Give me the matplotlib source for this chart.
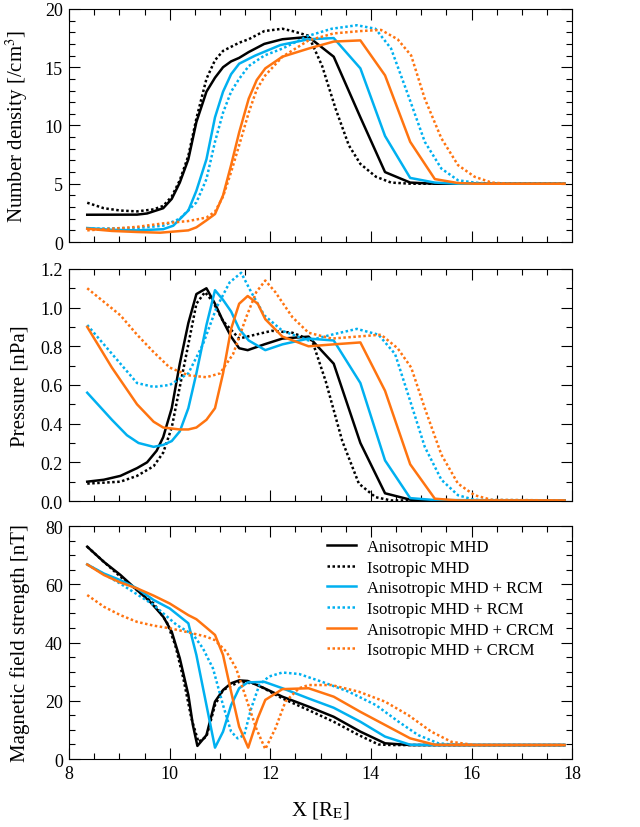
import matplotlib.pyplot as plt
from matplotlib.ticker import MultipleLocator, FormatStrFormatter

plt.rcParams['font.family'] = ['Liberation Serif', 'DejaVu Serif']
plt.rcParams['mathtext.fontset'] = 'stix'

# colours / labels
c_black = 'black'
c_cyan = '#00b0f0'
c_orange = '#ff7410'
labels = ['Anisotropic MHD', 'Isotropic MHD', 'Anisotropic MHD + RCM',
          'Isotropic MHD + RCM', 'Anisotropic MHD + CRCM', 'Isotropic MHD + CRCM']

# ---- number density [/cm^3] ----
n_aniso_x = [8.36, 9.35, 9.55, 9.87, 10.04, 10.2, 10.37, 10.53, 10.73, 10.9, 11.06, 11.22, 11.38, 11.57,
             11.88, 12.24, 12.76, 13.26, 13.79, 14.28, 14.78, 15.27, 17.85]
n_aniso_y = [2.34, 2.35, 2.45, 2.9, 3.7, 5.1, 7.1, 10.3, 12.9, 14.1, 15.0, 15.5, 15.8, 16.3,
             17.0, 17.4, 17.6, 15.9, 10.7, 6.0, 5.1, 5.0, 5.0]
n_iso_x = [8.36, 8.69, 9.02, 9.35, 9.68, 9.87, 10.04, 10.2, 10.37, 10.53, 10.73, 10.9, 11.06, 11.38, 11.57,
           11.88, 12.24, 12.44, 12.76, 13.03, 13.3, 13.56, 13.79, 14.1, 14.4, 14.8, 17.85]
n_iso_y = [3.37, 2.9, 2.7, 2.63, 2.8, 3.1, 3.9, 5.3, 7.4, 10.6, 14.0, 15.6, 16.4, 17.1, 17.4,
           18.1, 18.3, 18.1, 17.7, 15.1, 11.4, 8.3, 6.7, 5.6, 5.1, 5.0, 5.0]
n_aniso_rcm_x = [8.36, 8.85, 9.35, 9.87, 10.07, 10.37, 10.53, 10.73, 10.9, 11.06, 11.22, 11.38, 11.7,
                 12.2, 12.76, 13.26, 13.79, 14.28, 14.78, 15.27, 15.73, 17.85]
n_aniso_rcm_y = [1.2, 1.05, 1.0, 1.1, 1.4, 2.7, 4.4, 7.1, 10.7, 12.9, 14.4, 15.3, 16.0,
                 16.9, 17.4, 17.5, 14.9, 9.1, 5.5, 5.1, 5.0, 5.0]
n_iso_rcm_x = [8.36, 9.35, 9.87, 10.2, 10.53, 10.73, 10.9, 11.06, 11.22, 11.38, 11.57, 11.88, 12.24,
               12.76, 13.22, 13.72, 14.09, 14.4, 14.74, 15.07, 15.4, 15.73, 16.06, 16.4, 17.85]
n_iso_rcm_y = [1.14, 1.2, 1.4, 2.0, 3.4, 5.4, 8.6, 11.1, 12.9, 14.0, 15.1, 16.0, 16.6,
               17.7, 18.3, 18.6, 18.3, 16.6, 12.6, 8.6, 6.3, 5.3, 5.1, 5.0, 5.0]
n_aniso_crcm_x = [8.36, 8.85, 9.35, 9.81, 10.37, 10.53, 10.73, 10.9, 11.06, 11.22, 11.38, 11.57, 11.73,
                  11.9, 12.24, 12.76, 13.26, 13.79, 14.28, 14.78, 15.27, 15.73, 16.06, 17.85]
n_aniso_crcm_y = [1.14, 0.95, 0.86, 0.8, 1.0, 1.26, 1.86, 2.4, 4.0, 6.6, 9.4, 12.3, 13.9,
                  14.9, 15.9, 16.6, 17.2, 17.3, 14.3, 8.6, 5.4, 5.06, 5.0, 5.0]
n_iso_crcm_x = [8.36, 9.35, 9.87, 10.37, 10.73, 10.9, 11.06, 11.22, 11.38, 11.57, 11.73, 11.9, 12.24,
                12.76, 13.26, 13.79, 14.2, 14.53, 14.8, 15.07, 15.4, 15.73, 16.06, 16.4, 16.73, 17.85]
n_iso_crcm_y = [1.0, 1.3, 1.6, 1.8, 2.1, 2.6, 3.9, 6.0, 8.3, 11.1, 13.1, 14.3, 15.9,
                17.3, 17.9, 18.1, 18.2, 17.4, 16.0, 12.3, 8.9, 6.6, 5.6, 5.1, 5.0, 5.0]

# ---- pressure [nPa] ----
p_aniso_x = [8.36, 8.69, 9.02, 9.35, 9.55, 9.74, 9.87, 10.04, 10.2, 10.37, 10.53, 10.73, 10.9, 11.06,
             11.22, 11.38, 11.55, 11.88, 12.24, 12.76, 13.26, 13.79, 14.28, 14.78, 15.27, 17.85]
p_aniso_y = [0.10, 0.11, 0.13, 0.17, 0.20, 0.26, 0.33, 0.48, 0.71, 0.92, 1.07, 1.10, 1.02, 0.93,
             0.85, 0.79, 0.78, 0.81, 0.84, 0.85, 0.71, 0.30, 0.04, 0.007, 0.003, 0.003]
p_iso_x = [8.36, 9.02, 9.35, 9.68, 9.87, 10.04, 10.2, 10.37, 10.53, 10.7, 10.86, 11.06, 11.38, 11.7,
           12.03, 12.44, 12.83, 13.1, 13.43, 13.76, 14.09, 14.4, 17.85]
p_iso_y = [0.09, 0.10, 0.13, 0.18, 0.25, 0.38, 0.59, 0.81, 1.02, 1.08, 1.03, 0.93, 0.84, 0.86,
           0.88, 0.87, 0.83, 0.62, 0.31, 0.09, 0.02, 0.003, 0.003]
p_aniso_rcm_x = [8.36, 8.85, 9.15, 9.38, 9.68, 9.87, 10.04, 10.2, 10.37, 10.53, 10.73, 10.9, 11.06,
                 11.22, 11.38, 11.57, 11.9, 12.24, 12.76, 13.26, 13.79, 14.28, 14.78, 15.27, 17.85]
p_aniso_rcm_y = [0.56, 0.42, 0.34, 0.30, 0.28, 0.29, 0.31, 0.36, 0.48, 0.66, 0.91, 1.09, 1.04,
                 0.98, 0.89, 0.83, 0.78, 0.81, 0.84, 0.83, 0.61, 0.21, 0.015, 0.005, 0.003]
p_iso_rcm_x = [8.36, 8.69, 9.02, 9.35, 9.68, 10.0, 10.37, 10.66, 10.93, 11.19, 11.42, 11.62, 11.88,
               12.24, 12.76, 13.22, 13.72, 14.15, 14.48, 14.74, 15.07, 15.4, 15.73, 16.06, 17.85]
p_iso_rcm_y = [0.91, 0.81, 0.71, 0.61, 0.59, 0.60, 0.66, 0.81, 1.00, 1.13, 1.18, 1.08, 0.96,
               0.88, 0.83, 0.86, 0.89, 0.86, 0.76, 0.55, 0.28, 0.11, 0.03, 0.006, 0.003]
p_aniso_crcm_x = [8.36, 8.85, 9.35, 9.68, 9.87, 10.2, 10.37, 10.53, 10.73, 10.9, 11.06, 11.22, 11.38,
                  11.55, 11.75, 11.9, 12.24, 12.76, 13.26, 13.79, 14.28, 14.78, 15.27, 15.73, 17.85]
p_aniso_crcm_y = [0.90, 0.69, 0.50, 0.41, 0.38, 0.37, 0.37, 0.38, 0.42, 0.48, 0.66, 0.89, 1.02,
                  1.06, 1.02, 0.94, 0.85, 0.80, 0.81, 0.82, 0.57, 0.19, 0.012, 0.003, 0.003]
p_iso_crcm_x = [8.36, 8.69, 9.02, 9.35, 9.68, 10.0, 10.37, 10.73, 11.0, 11.26, 11.52, 11.72, 11.9,
                12.1, 12.44, 12.76, 13.22, 13.72, 14.2, 14.53, 14.8, 15.07, 15.4, 15.73, 16.06, 16.4, 17.85]
p_iso_crcm_y = [1.10, 1.03, 0.96, 0.86, 0.77, 0.69, 0.65, 0.64, 0.66, 0.76, 0.95, 1.08, 1.14,
                1.08, 0.95, 0.87, 0.84, 0.85, 0.86, 0.79, 0.69, 0.48, 0.24, 0.09, 0.03, 0.006, 0.003]

# ---- magnetic field strength [nT] ----
b_aniso_x = [8.36, 8.69, 9.02, 9.35, 9.61, 9.87, 10.04, 10.2, 10.37, 10.46, 10.55, 10.73, 10.9, 11.06,
             11.22, 11.38, 11.55, 11.88, 12.24, 12.76, 13.26, 13.79, 14.28, 14.78, 17.85]
b_aniso_y = [72.9, 67.7, 63.2, 58.0, 54.0, 48.9, 43.7, 34.6, 22.0, 11.7, 4.5, 8.2, 19.7, 23.7,
             26.0, 27.0, 26.8, 24.3, 21.4, 18.0, 14.5, 9.4, 5.4, 4.8, 4.8]
b_iso_x = [8.36, 8.69, 9.02, 9.35, 9.68, 9.94, 10.11, 10.27, 10.43, 10.57, 10.73, 10.9, 11.06, 11.38,
           11.7, 12.24, 12.76, 13.26, 13.76, 14.15, 14.4, 17.85]
b_iso_y = [72.9, 67.7, 62.6, 58.0, 53.4, 47.1, 39.1, 27.7, 14.0, 5.9, 7.7, 18.5, 23.7, 26.5,
           25.9, 20.8, 16.8, 12.8, 8.2, 5.0, 4.8, 4.8]
b_aniso_rcm_x = [8.36, 8.69, 9.02, 9.35, 9.68, 10.0, 10.37, 10.53, 10.73, 10.9, 11.06, 11.22, 11.38,
                 11.55, 11.88, 12.24, 12.76, 13.26, 13.79, 14.28, 14.78, 15.27, 17.85]
b_aniso_rcm_y = [66.8, 63.7, 61.4, 58.6, 54.6, 51.7, 46.6, 35.7, 18.5, 3.9, 9.4, 18.5, 24.3,
                 26.3, 26.5, 24.3, 20.8, 17.6, 12.8, 7.7, 4.9, 4.8, 4.8]
b_iso_rcm_x = [8.36, 9.02, 9.68, 10.14, 10.47, 10.66, 10.86, 11.06, 11.22, 11.35, 11.48, 11.62, 11.78,
               11.97, 12.24, 12.57, 13.03, 13.56, 14.1, 14.55, 14.94, 15.34, 15.73, 17.85]
b_iso_rcm_y = [66.8, 60.2, 52.9, 46.0, 42.6, 38.0, 31.1, 18.5, 9.4, 7.1, 8.2, 17.4, 25.4,
               28.3, 29.7, 29.2, 26.5, 23.1, 18.5, 12.8, 8.2, 5.4, 4.8, 4.8]
b_aniso_crcm_x = [8.36, 8.69, 9.02, 9.35, 9.68, 10.0, 10.37, 10.53, 10.73, 10.9, 11.06, 11.22, 11.38,
                  11.56, 11.75, 11.9, 12.24, 12.76, 13.26, 13.79, 14.28, 14.78, 15.27, 15.73, 17.85]
b_aniso_crcm_y = [66.8, 63.2, 60.6, 58.6, 56.1, 53.4, 49.4, 48.0, 45.1, 42.6, 35.7, 23.1, 11.1,
                  3.9, 14.0, 20.3, 24.0, 24.3, 21.4, 16.2, 11.7, 7.1, 4.9, 4.8, 4.8]
b_iso_crcm_x = [8.36, 8.69, 9.02, 9.35, 9.68, 10.0, 10.37, 10.73, 10.9, 11.13, 11.32, 11.52, 11.72,
                11.9, 12.1, 12.3, 12.57, 12.76, 13.22, 13.76, 14.28, 14.74, 15.2, 15.6, 16.06, 17.85]
b_iso_crcm_y = [56.3, 52.3, 49.4, 47.1, 45.8, 44.9, 43.5, 42.0, 40.8, 36.8, 31.1, 20.8, 10.5,
                3.4, 10.5, 19.7, 24.3, 25.4, 25.4, 23.1, 19.7, 15.1, 9.4, 5.9, 4.8, 4.8]

dotted = (0, (1, 1))
styles = [(c_black, '-'), (c_black, dotted), (c_cyan, '-'), (c_cyan, dotted),
          (c_orange, '-'), (c_orange, dotted)]

panels = [
    ([(n_aniso_x, n_aniso_y), (n_iso_x, n_iso_y), (n_aniso_rcm_x, n_aniso_rcm_y),
      (n_iso_rcm_x, n_iso_rcm_y), (n_aniso_crcm_x, n_aniso_crcm_y), (n_iso_crcm_x, n_iso_crcm_y)],
     r'Number density [/cm$^3$]', (0, 20), 5, 1, '%d', [0.108, 0.7065, 0.786, 0.2815]),
    ([(p_aniso_x, p_aniso_y), (p_iso_x, p_iso_y), (p_aniso_rcm_x, p_aniso_rcm_y),
      (p_iso_rcm_x, p_iso_rcm_y), (p_aniso_crcm_x, p_aniso_crcm_y), (p_iso_crcm_x, p_iso_crcm_y)],
     'Pressure [nPa]', (0, 1.2), 0.2, 0.1, '%.1f', [0.108, 0.3937, 0.786, 0.2803]),
    ([(b_aniso_x, b_aniso_y), (b_iso_x, b_iso_y), (b_aniso_rcm_x, b_aniso_rcm_y),
      (b_iso_rcm_x, b_iso_rcm_y), (b_aniso_crcm_x, b_aniso_crcm_y), (b_iso_crcm_x, b_iso_crcm_y)],
     'Magnetic field strength [nT]', (0, 80), 20, 5, '%d', [0.108, 0.0821, 0.786, 0.2814]),
]

fig = plt.figure(figsize=(6.4, 8.28), dpi=100)
axes = []
for series, ylab, ylim, major, minor, fmt, rect in panels:
    ax = fig.add_axes(rect)
    for (xs, ys), (col, ls), lab in zip(series, styles, labels):
        ax.plot(xs, ys, color=col, linestyle=ls, linewidth=1.8, label=lab)
    ax.set_xlim(8, 18)
    ax.set_ylim(*ylim)
    ax.xaxis.set_major_locator(MultipleLocator(2))
    ax.xaxis.set_minor_locator(MultipleLocator(0.5))
    ax.yaxis.set_major_locator(MultipleLocator(major))
    ax.yaxis.set_minor_locator(MultipleLocator(minor))
    ax.yaxis.set_major_formatter(FormatStrFormatter(fmt))
    ax.tick_params(which='both', direction='in', top=True, right=True, labelsize=13, pad=4.5)
    ax.tick_params(which='major', length=8, width=0.8)
    ax.tick_params(which='minor', length=4.5, width=0.8)
    ax.set_ylabel(ylab, fontsize=15)
    ax.yaxis.set_label_coords(-0.078, 0.5)
    axes.append(ax)

axes[0].tick_params(labelbottom=False)
axes[1].tick_params(labelbottom=False)
axes[2].set_xlabel(r'X [R$_\mathrm{E}$]', fontsize=15, labelpad=12)
axes[2].legend(loc='upper left', frameon=False, fontsize=12, handlelength=1.7,
               handletextpad=0.7, labelspacing=0.28, borderpad=0, borderaxespad=0,
               bbox_to_anchor=(0.513, 0.945))

fig.savefig('out.png', dpi=100)
